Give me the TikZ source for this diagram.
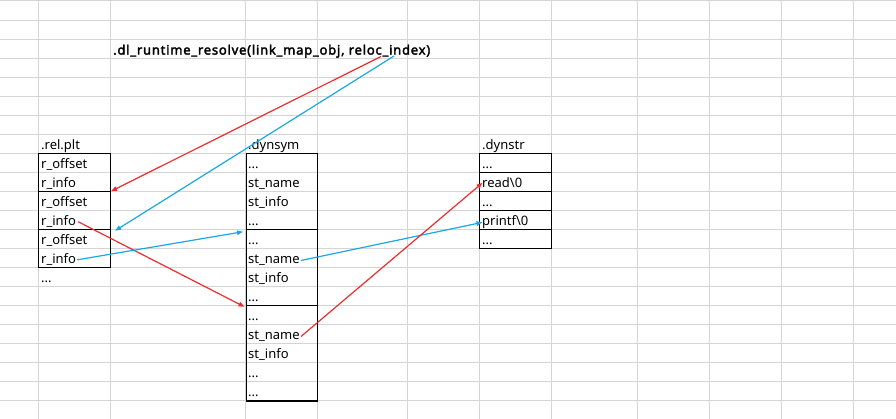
\documentclass[tikz,border=0pt]{standalone}
\usepackage{fontspec}
\setmainfont{Noto Sans}
\newfontfamily\ttlfont{Noto Sans}[FakeBold=2.5,LetterSpace=6]
\usetikzlibrary{arrows.meta}
\definecolor{gridc}{HTML}{D4D4D4}
\definecolor{redc}{HTML}{EE2C2C}
\definecolor{bluec}{HTML}{1AA7E6}
\newcommand{\rw}[1]{1+19.02*(#1)}
\begin{document}
\begin{tikzpicture}[x=1pt,y=-1pt,
  cell/.style={anchor=base west, inner sep=0pt, font=\fontsize{13}{15}\selectfont},
  ttl/.style={anchor=base west, inner sep=0pt, font=\ttlfont\fontsize{13}{15}\selectfont},
  boxc/.style={draw=black, line width=1.1pt, anchor=north west, inner sep=0pt, minimum width=72pt},
  boxw/.style={draw=black, line width=1.1pt, anchor=north west, inner sep=0pt, minimum width=71.5pt},
  arr/.style={line width=1.2pt, -{Triangle[length=6pt,width=4.5pt]}}]
\useasboundingbox (0,0) rectangle (896,419);
% grid
\foreach \gx in {38,110,245.5,317,407,479,551.5,637,709,781,853}
  \draw[gridc, line width=1pt] (\gx,0) -- (\gx,419);
\foreach \k in {0,...,21}
  \draw[gridc, line width=1pt] (0,{\rw{\k}}) -- (896,{\rw{\k}});
% title
\node[ttl] (title) at (113,{\rw{3}-3.5}) {.dl\_runtime\_resolve(link\_map\_obj, reloc\_index)};
\coordinate (titleR) at (381,56.5);
\coordinate (titleB) at (394,56);
% .rel.plt
\node[cell] (rellbl) at (41,{\rw{8}-3.5}) {.rel.plt};
\node[boxc, minimum height=38.04pt] (relA) at (38,{\rw{8}}) {};
\node[boxc, minimum height=38.04pt] (relB) at (38,{\rw{10}}) {};
\node[boxc, minimum height=38.04pt] (relC) at (38,{\rw{12}}) {};
\node[cell] (ro1) at (41,{\rw{9}-3.5}) {r\_offset};
\node[cell] (ri1) at (41,{\rw{10}-3.5}) {r\_info};
\node[cell] (ro2) at (41,{\rw{11}-3.5}) {r\_offset};
\node[cell] (ri2) at (41,{\rw{12}-3.5}) {r\_info};
\node[cell] (ro3) at (41,{\rw{13}-3.5}) {r\_offset};
\node[cell] (ri3) at (41,{\rw{14}-3.5}) {r\_info};
\node[cell] (reld) at (41,{\rw{15}-3.5}) {...};
% .dynsym
\node[cell] (symlbl) at (248,{\rw{8}-3.5}) {.dynsym};
\node[boxw, minimum height=76.08pt] (symA) at (245.5,{\rw{8}}) {};
\node[boxw, minimum height=76.08pt] (symB) at (245.5,{\rw{12}}) {};
\node[boxw, minimum height=95.1pt] (symC) at (245.5,{\rw{16}}) {};
\node[cell] (sd1) at (248,{\rw{9}-3.5}) {...};
\node[cell] (sn1) at (248,{\rw{10}-3.5}) {st\_name};
\node[cell] (si1) at (248,{\rw{11}-3.5}) {st\_info};
\node[cell] (sd2) at (248,{\rw{12}-3.5}) {...};
\node[cell] (sd3) at (248,{\rw{13}-3.5}) {...};
\node[cell] (sn2) at (248,{\rw{14}-3.5}) {st\_name};
\node[cell] (si2) at (248,{\rw{15}-3.5}) {st\_info};
\node[cell] (sd4) at (248,{\rw{16}-3.5}) {...};
\node[cell] (sd5) at (248,{\rw{17}-3.5}) {...};
\node[cell] (sn3) at (248,{\rw{18}-3.5}) {st\_name};
\node[cell] (si3) at (248,{\rw{19}-3.5}) {st\_info};
\node[cell] (sd6) at (248,{\rw{20}-3.5}) {...};
\node[cell] (sd7) at (248,{\rw{21}-3.5}) {...};
% .dynstr
\node[cell] (strlbl) at (482,{\rw{8}-3.5}) {.dynstr};
\foreach \k/\nm in {8/strA,9/strB,10/strC,11/strD,12/strE}
  \node[boxc, minimum height=19.02pt] (\nm) at (479,{\rw{\k}}) {};
\node[cell] (td1) at (482,{\rw{9}-3.5}) {...};
\node[cell] (tread) at (482,{\rw{10}-3.5}) {read\textbackslash 0};
\node[cell] (td2) at (482,{\rw{11}-3.5}) {...};
\node[cell] (tprintf) at (482,{\rw{12}-3.5}) {printf\textbackslash 0};
\node[cell] (td3) at (482,{\rw{13}-3.5}) {...};
% arrows
\draw[arr, redc] (titleR) -- (relB.north west -| relB.east);
\draw[arr, bluec] (titleB) -- ([shift={(4,1.5)}]relC.north east);
\draw[arr, redc] ([xshift=2pt]ri2.east) -- ([shift={(-1,1.5)}]symC.north west);
\draw[arr, bluec] ([xshift=1pt]ri3.east) -- ([shift={(-2.5,2.5)}]symB.north west);
\draw[arr, bluec] ([xshift=1pt]sn2.east) -- ([xshift=0.5pt]tprintf.west);
\draw[arr, redc] ([xshift=1pt]sn3.east) -- ([xshift=0.5pt]tread.west);
\end{tikzpicture}
\end{document}
